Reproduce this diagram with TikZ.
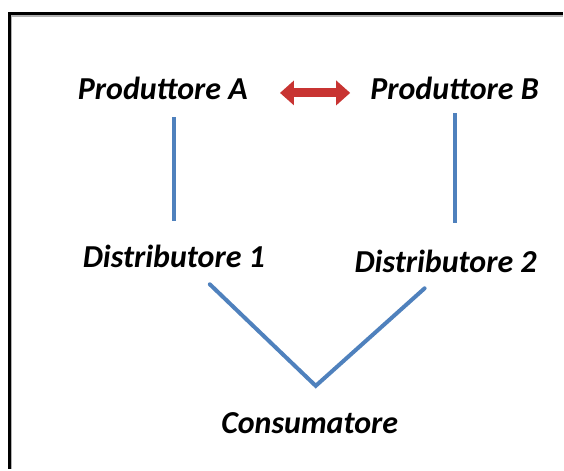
\documentclass[tikz,border=0pt]{standalone}
\usepackage{fontspec}
\setmainfont{Carlito}
\usetikzlibrary{arrows.meta}
\definecolor{lineblue}{RGB}{79,129,189}
\definecolor{arrowred}{RGB}{200,52,50}
\tikzset{
  actor/.style={inner sep=0pt,font=\fontsize{32}{38}\selectfont\bfseries\itshape},
  link/.style={lineblue,line width=4pt},
  swap/.style={arrowred,line width=9pt,
    {Triangle[width=24pt,length=14pt]}-{Triangle[width=24pt,length=14pt]}},
}
\begin{document}
\begin{tikzpicture}[x=1pt,y=-1pt]
\fill[white] (0,0) rectangle (564,469);
% frame, cut by the page edge
\draw[gray!60,line width=1.5pt] (11,469) -- (11,16) -- (563,16);
\draw[black,line width=3pt] (9.5,469) -- (9.5,13.5) -- (563,13.5);

% the actors
\node[actor] (prodA) at (163,88) {Produttore A};
\node[actor] (prodB) at (455,88) {Produttore B};
\node[actor] (distA) at (174,257) {Distributore 1};
\node[actor] (distB) at (446,262) {Distributore 2};
\node[actor] (cons) at (310,424) {Consumatore};

% competition between the producers
\draw[swap,shorten <=32pt,shorten >=20pt]
  ([yshift=-5pt]prodA.east) -- ([yshift=-5pt]prodB.west);

% supply chain
\draw[link] ([yshift=-18pt]prodA.south -| distA.north) -- ([yshift=24pt]distA.north);
\draw[link] ([yshift=-14pt]prodB.south) -- ([yshift=27pt]prodB.south |- distB.north);
\coordinate (tip) at ([xshift=6pt,yshift=27pt]cons.north);
\draw[link,line cap=round] ([xshift=36pt,yshift=-16pt]distA.south)
  -- (tip) -- ([xshift=-21pt,yshift=-15pt]distB.south);
\end{tikzpicture}
\end{document}
